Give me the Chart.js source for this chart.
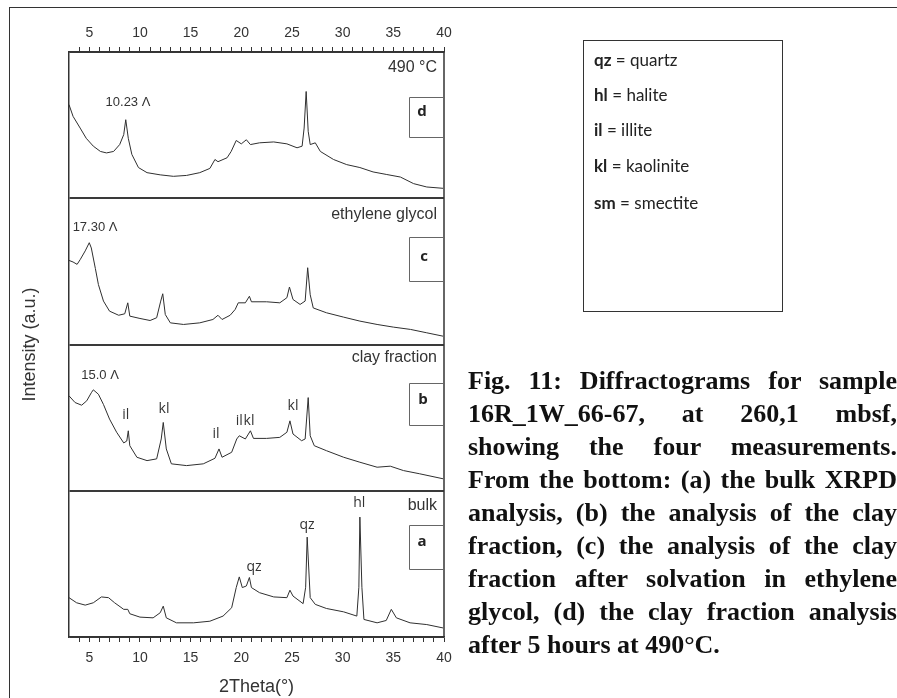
<!DOCTYPE html>
<html><head><meta charset="utf-8">
<script src="https://cdn.jsdelivr.net/npm/chart.js@4.4.0/dist/chart.umd.min.js"></script>
<style>
html,body{margin:0;padding:0;background:#fff;}
body{width:897px;height:698px;position:relative;overflow:hidden;}
#frameTop{position:absolute;left:9px;top:7px;width:888px;height:0;border-top:1.5px solid #333;}
#frameLeft{position:absolute;left:9px;top:7px;width:0;height:691px;border-left:1.5px solid #333;}
#wrap{position:absolute;left:0;top:0;width:897px;height:698px;}
#legend{position:absolute;left:583px;top:40px;width:200px;height:272px;border:1px solid #333;box-sizing:border-box;font-family:Lato,"Open Sans",sans-serif;font-size:17px;color:#222;}
#legend .item{position:absolute;left:10px;line-height:20px;white-space:nowrap;}
#caption{position:absolute;left:468px;top:364px;width:429px;font-family:"Liberation Serif","Times New Roman",serif;font-weight:bold;font-size:26px;line-height:33px;color:#111;}
#caption .ln{white-space:nowrap;text-align:justify;text-align-last:justify;}
#caption .ln.last{text-align-last:left;}
</style>
</head><body>
<div id="wrap"><canvas id="c" width="897" height="698"></canvas></div>
<div id="frameTop"></div><div id="frameLeft"></div>
<div id="legend">
  <div class="item" style="top:9px"><b>qz</b> = quartz</div>
  <div class="item" style="top:44px"><b>hl</b> = halite</div>
  <div class="item" style="top:79px"><b>il</b> = illite</div>
  <div class="item" style="top:115px"><b>kl</b> = kaolinite</div>
  <div class="item" style="top:152px"><b>sm</b> = smectite</div>
</div>
<div id="caption">
  <div class="ln">Fig. 11: Diffractograms for sample</div>
  <div class="ln">16R_1W_66-67, at 260,1 mbsf,</div>
  <div class="ln">showing the four measurements.</div>
  <div class="ln">From the bottom: (a) the bulk XRPD</div>
  <div class="ln">analysis, (b) the analysis of the clay</div>
  <div class="ln">fraction, (c) the analysis of the clay</div>
  <div class="ln">fraction after solvation in ethylene</div>
  <div class="ln">glycol, (d) the clay fraction analysis</div>
  <div class="ln last">after 5 hours at 490°C.</div>
</div>
<script>
// ---- data (2Theta in degrees, intensity in a.u. per panel) ----
const panelLetters = ['a', 'b', 'c', 'd'];
const panelTitles = ['bulk', 'clay fraction', 'ethylene glycol', '490 °C'];
const xTickLabels = [5, 10, 15, 20, 25, 30, 35, 40];

const thetaA = [3,3.75,4.6,5.4,6.2,6.9,7.5,8.4,8.8,9.0,10.0,11.3,12.0,12.3,12.6,13.6,15.3,16.9,18.2,19.05,19.5,19.8,20.1,20.5,20.8,21.0,21.8,23.2,24.5,24.8,25.1,26.1,26.35,26.5,26.8,27.3,28.4,30.1,31.4,31.6,31.7,31.9,32.1,33.4,34.3,34.8,35.3,36.65,38.3,39.9];
const intensityA = [26.9,23.4,21.8,23.4,27.4,26.9,23.4,18.9,18.9,15.9,13.6,13.1,16.6,21.1,13.1,9.7,9.7,10.8,14.3,20,33.8,41.1,33.8,34.9,40.7,33.8,30.3,27.4,26.9,32,28,22.8,34,68.3,26.9,22.3,19.5,17.2,14.3,34,82,34,12,9.7,11.3,18.9,13.1,9.7,8.5,6.2];

const thetaB = [3,3.6,4.25,4.75,5.2,5.4,5.9,6.4,7.0,7.7,8.4,8.7,8.85,9.0,9.7,10.7,11.65,12.1,12.3,12.6,13.1,14.6,16.25,17.4,17.8,18.1,19.05,19.55,19.8,20.4,20.9,21.2,22.5,23.8,24.5,24.8,25.1,25.95,26.3,26.6,26.8,27.2,28.4,30.1,31.7,33.4,34.7,36.0,37.6,39.9];
const intensityB = [64.9,60.3,58.5,61.5,67,69,66,59,49,40,32.7,34,41,30.8,22.9,20.6,21.8,35.4,46.7,28.6,18.4,17.2,18.4,22.2,28.6,22.9,26.3,35.4,37.6,35.4,41,35.8,35.8,36.5,40,47.8,38.8,34.2,35.4,63.7,37.6,30.8,27.4,22.9,19.5,16.1,16.8,13.8,11.6,8.2];

const thetaC = [3,3.4,3.8,4.1,4.6,5.0,5.2,5.6,5.9,6.4,7.0,7.9,8.5,8.8,9.0,10.0,11.0,11.65,12.05,12.25,12.5,13.0,14.3,15.9,17.2,17.7,18.1,18.9,19.4,19.7,20.4,20.8,21.0,22.5,23.8,24.5,24.75,25.1,25.8,26.3,26.55,26.8,27.1,28.4,30.1,31.7,33.4,35.0,36.7,38.3,39.9];
const intensityC = [57.5,56.4,54.8,58,64,69.6,66,52,41,29.7,22.8,20,21,28.5,19.4,17.8,16.4,18.3,29.7,34.7,20.5,14.8,13.7,14.8,17.1,20,17.1,20,24,28.5,28.5,33,29.2,29.2,28.5,32,39.3,30.8,27.4,29.7,52.5,34,25,21.7,18.7,16,13.7,11.9,10.3,8,5.7];

const thetaD = [3,3.4,4.1,4.7,5.4,6.1,6.7,7.4,8.0,8.4,8.6,8.85,9.2,9.85,10.7,12.0,13.3,14.6,15.9,16.9,17.4,17.7,18.6,19.0,19.5,20.0,20.5,20.9,21.8,23.2,24.5,25.5,26.0,26.2,26.4,26.6,26.8,27.3,27.8,29.1,30.4,31.7,33.0,34.3,35.7,37.0,38.3,39.9];
const intensityD = [64,56,48,41,35.6,32,31,32,36.7,43.5,53.7,41,30,21,17.5,16,15,15.6,17.5,20.4,26.5,25,27.7,32,39.5,37.2,40,36.7,37.9,38.5,37.2,34.5,35.6,48,73,45.8,36.7,37.9,32,26.5,23,21,18,16.3,14.5,10,7.7,6.8];

// peak labels: [text, 2Theta, panel-relative intensity, panel index]
const peakLabels = [
  ['10.23 Λ', 8.82, 65.8, 3],
  ['17.30 Λ', 5.57, 80.3, 2],
  ['15.0 Λ', 6.06, 79.1, 1],
  ['il', 8.6, 51.8, 1],
  ['kl', 12.37, 55.9, 1],
  ['il', 17.5, 38.8, 1],
  ['il', 19.8, 47.7, 1],
  ['kl', 20.76, 47.7, 1],
  ['kl', 25.1, 58.0, 1],
  ['qz', 21.25, 47.9, 0],
  ['qz', 26.48, 76.6, 0],
  ['hl', 31.64, 91.6, 0]
];

// ---- build ----
const PANEL = 100;
const thetas = [thetaA, thetaB, thetaC, thetaD];
const ints = [intensityA, intensityB, intensityC, intensityD];
const datasets = thetas.map((t, i) => ({
  label: panelLetters[i],
  data: t.map((v, k) => ({x: v, y: ints[i][k] + i * PANEL})),
  borderColor: '#2f2f2f', borderWidth: 1, pointRadius: 0, tension: 0, fill: false
}));

// box geometry (2Theta / panel-relative units)
const boxGeom = [
  {x0: 36.55, x1: 40, y0: 46.5, y1: 76.6, lx: 37.83, ly: 65},
  {x0: 36.55, x1: 40, y0: 45, y1: 73.7, lx: 37.93, ly: 62},
  {x0: 36.55, x1: 40, y0: 43.6, y1: 73.8, lx: 38.03, ly: 59.8},
  {x0: 36.55, x1: 40, y0: 42, y1: 69.2, lx: 37.83, ly: 59}
];
const titleGeom = [{x: 39.31, y: 89.6}, {x: 39.31, y: 90.8}, {x: 39.31, y: 88.5}, {x: 39.31, y: 89}];

const annot = {
  id: 'annot',
  afterDraw(chart) {
    const {ctx, chartArea: a, scales: {x, y}} = chart;
    ctx.save();
    ctx.strokeStyle = '#333'; ctx.lineWidth = 1.5;
    ctx.beginPath(); ctx.moveTo(a.right, a.top); ctx.lineTo(a.right, a.bottom); ctx.stroke();
    boxGeom.forEach((b, i) => {
      const off = i * PANEL;
      const l = Math.round(x.getPixelForValue(b.x0)) + 0.5, r = x.getPixelForValue(b.x1);
      const t = Math.round(y.getPixelForValue(b.y1 + off)) + 0.5, bt = Math.round(y.getPixelForValue(b.y0 + off)) + 0.5;
      ctx.strokeStyle = '#666'; ctx.lineWidth = 1;
      ctx.beginPath(); ctx.moveTo(r, t); ctx.lineTo(l, t); ctx.lineTo(l, bt); ctx.lineTo(r, bt); ctx.stroke();
      ctx.font = 'bold 15px "Open Sans"'; ctx.fillStyle = '#222';
      ctx.textAlign = 'center'; ctx.textBaseline = 'middle';
      ctx.fillText(panelLetters[i], x.getPixelForValue(b.lx), y.getPixelForValue(b.ly + off));
      const tg = titleGeom[i];
      ctx.font = '16px "Liberation Sans"'; ctx.fillStyle = '#333'; ctx.textAlign = 'right';
      ctx.fillText(panelTitles[i], x.getPixelForValue(tg.x), y.getPixelForValue(tg.y + off));
    });
    peakLabels.forEach(([txt, px, py, p]) => {
      ctx.font = (txt.length > 3 ? '13px "Liberation Sans"' : '14px "Open Sans"');
      ctx.fillStyle = '#333'; ctx.textAlign = 'center'; ctx.textBaseline = 'middle';
      ctx.fillText(txt, x.getPixelForValue(px), y.getPixelForValue(py + p * PANEL));
    });
    ctx.restore();
  }
};

const tickFont = {family: 'Liberation Sans', size: 14};
function xAxis(pos, h, pad) {
  return {
    type: 'linear', position: pos, min: 3, max: 40,
    afterFit(s) { s.height = h; },
    afterBuildTicks(s) { const t = []; for (let v = 4; v <= 40; v++) t.push({value: v}); s.ticks = t; },
    ticks: {
      autoSkip: false, maxRotation: 0, color: '#333', font: tickFont, padding: pad,
      callback: v => (xTickLabels.includes(v) ? String(v) : '')
    },
    grid: {drawOnChartArea: false, drawTicks: true, tickLength: 5, color: '#333', tickWidth: 1},
    border: {display: true, color: '#333', width: 1.5},
    title: pos === 'bottom' ? {display: true, text: '2Theta(°)', color: '#333', font: {family: 'Liberation Sans', size: 18}, padding: {top: 0, bottom: 0}} : {display: false}
  };
}

new Chart(document.getElementById('c'), {
  type: 'line',
  data: {datasets},
  options: {
    responsive: false, animation: false, devicePixelRatio: 1,
    layout: {padding: {left: 0, right: 453, top: 0, bottom: 0}},
    plugins: {legend: {display: false}, tooltip: {enabled: false}},
    scales: {
      x: xAxis('bottom', 61, 8),
      x2: xAxis('top', 52, 5),
      y: {
        type: 'linear', min: 0, max: 4 * PANEL,
        afterFit(s) { s.width = 69; },
        ticks: {display: false, stepSize: PANEL},
        grid: {drawOnChartArea: true, drawTicks: false, color: '#3a3a3a', lineWidth: 2},
        border: {display: true, color: '#333', width: 1.5},
        title: {display: true, text: 'Intensity (a.u.)', color: '#333', font: {family: 'Liberation Sans', size: 18}, padding: {top: 19, bottom: 0}}
      }
    }
  },
  plugins: [annot]
});
</script>
</body></html>
